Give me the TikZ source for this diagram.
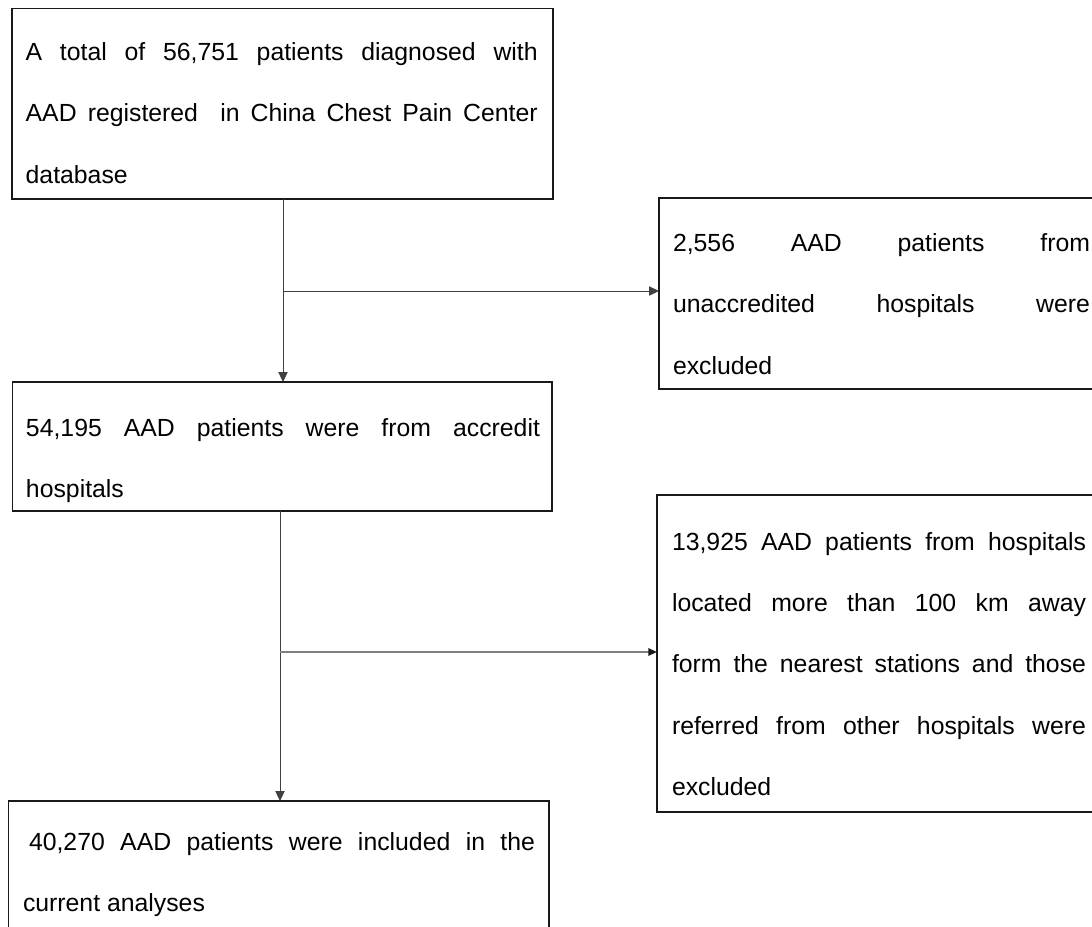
\documentclass[tikz,border=0pt]{standalone}
\usepackage{fontspec}
\setmainfont{Liberation Sans}
\usetikzlibrary{arrows.meta}
\begin{document}
\begin{tikzpicture}[x=0.75pt,y=-0.75pt,
  boxframe/.style={rectangle,draw=black!90,line width=1.1pt,inner sep=0pt,outer sep=0pt,anchor=north west},
  boxtext/.style={anchor=base west,inner sep=0pt,outer sep=0pt,align=justify,font=\fontsize{18.6pt}{46.1pt}\selectfont},
  conn/.style={draw=black!75,line width=0.75pt},
  arr/.style={conn,-{Triangle[length=7.5pt,width=7pt]}},
  arrgrey/.style={draw=black!50,line width=1.4pt,-{Triangle[length=6.5pt,width=5.5pt,color=black!90]}},
  ]
\useasboundingbox (0,0) rectangle (1092,926);
\clip (0,0) rectangle (1092,926);

% frames
\node[boxframe,minimum width=405.75pt,minimum height=142.9pt] (b1) at (12,8.5) {};
\node[boxframe,minimum width=330.75pt,minimum height=143.25pt] (r1) at (659,198) {};
\node[boxframe,minimum width=404.6pt,minimum height=96.75pt] (b2) at (12.5,382) {};
\node[boxframe,minimum width=332.25pt,minimum height=237.75pt] (r2) at (657,495) {};
\node[boxframe,minimum width=405.4pt,minimum height=100.5pt] (b3) at (8.5,801) {};

% texts
\node[boxtext,text width=384pt] (t1) at (25.7,60.5)
  {A total of 56,751 patients diagnosed with\linebreak AAD registered\ \ in China Chest Pain Center\linebreak database};
\node[boxtext,text width=312.75pt] (tr1) at (673,251.5)
  {2,556 AAD patients from\linebreak unaccredited hospitals were\linebreak excluded};
\node[boxtext,text width=385.5pt] (t2) at (26,436.5)
  {54,195 AAD patients were from accredit\linebreak hospitals};
\node[boxtext,text width=310.5pt] (tr2) at (672,550)
  {13,925 AAD patients from hospitals\linebreak located more than 100 km away\linebreak form the nearest stations and those\linebreak referred from other hospitals were\linebreak excluded};
\node[boxtext,text width=384pt] (t3) at (23,850)
  {\hspace*{4.5pt}40,270 AAD patients were included in the\linebreak current analyses};

% junctions
\coordinate (j1) at (283,291);
\coordinate (j2) at (280,652);

% connectors
\draw[arr] (b1.south -| j1) -- (b2.north -| j1);
\draw[arr] (j1) -- (j1 -| r1.west);
\draw[arr] (b2.south -| j2) -- (b3.north -| j2);
\draw[arrgrey] (j2) -- (j2 -| r2.west);
\end{tikzpicture}
\end{document}
